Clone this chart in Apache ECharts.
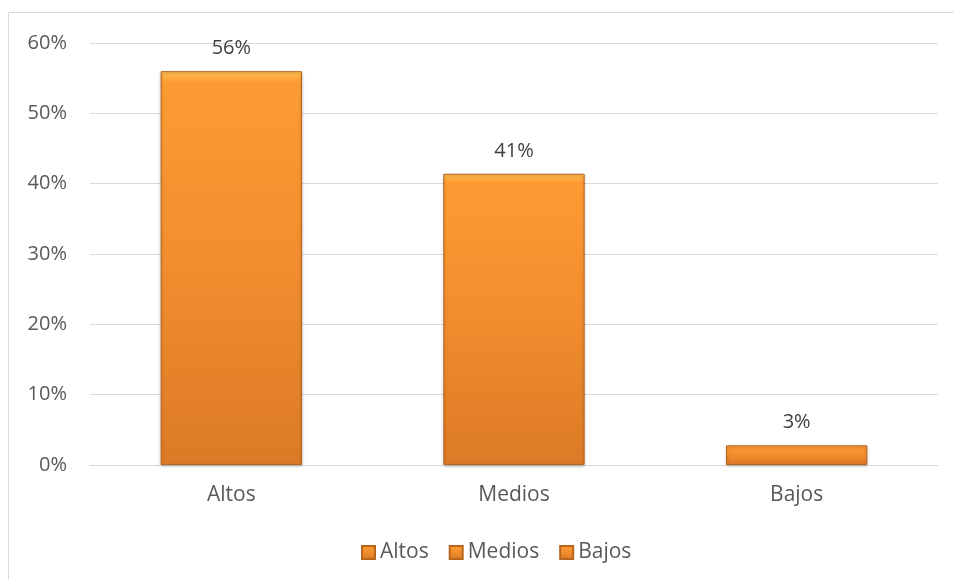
<!DOCTYPE html>
<html>
<head>
<meta charset="utf-8">
<script src="https://cdn.jsdelivr.net/npm/echarts@6/dist/echarts.min.js"></script>
<style>
  html, body { margin: 0; padding: 0; background: #fff; }
  #chart { width: 954px; height: 579px; }
</style>
</head>
<body>
<div id="chart"></div>
<script>
  // values (percent)
  var categories = ['Altos', 'Medios', 'Bajos'];
  var values = [56, 41.4, 2.8];
  var yTicks = [0, 10, 20, 30, 40, 50, 60];

  var myChart = echarts.init(document.getElementById('chart'));
  var font = '"Open Sans", "Liberation Sans", sans-serif';

  var barColor = new echarts.graphic.LinearGradient(0, 0, 0, 1, [
    {offset: 0, color: '#ffc04f'},
    {offset: 0.03, color: '#fd9b33'},
    {offset: 0.5, color: '#f18d2e'},
    {offset: 1, color: '#dc7a26'}
  ]);

  // one series per category so the legend shows all three names
  var series = categories.map(function (name, i) {
    var data = categories.map(function (c, j) { return j === i ? values[i] : null; });
    return {
      name: name,
      type: 'bar',
      stack: 'all',
      barWidth: '50%',
      data: data,
      itemStyle: {
        color: barColor,
        borderColor: '#b8661e',
        borderWidth: 1,
        shadowColor: 'rgba(0,0,0,0.25)',
        shadowBlur: 3,
        shadowOffsetY: 1
      },
      label: {
        show: true,
        position: 'top',
        distance: 13,
        color: '#404040',
        fontSize: 20,
        fontFamily: font,
        formatter: function (p) { return Math.round(p.value) + '%'; }
      }
    };
  });

  myChart.setOption({
    animation: false,
    graphic: [{
      type: 'polyline',
      shape: {points: [[8.5, 579], [8.5, 12.5], [954, 12.5]]},
      style: {fill: 'none', stroke: '#d9d9d9', lineWidth: 1},
      silent: true
    }],
    grid: {
      left: 90,
      right: 16,
      top: 43,
      bottom: 114
    },
    legend: {
      top: 537,
      left: 356,
      itemWidth: 13,
      itemHeight: 13,
      itemGap: 20,
      icon: 'rect',
      textStyle: {color: '#595959', fontSize: 21, fontFamily: font},
      data: categories
    },
    xAxis: {
      type: 'category',
      data: categories,
      axisTick: {show: false},
      axisLine: {lineStyle: {color: '#d9d9d9', width: 1}},
      axisLabel: {color: '#595959', fontSize: 21, fontFamily: font, margin: 20}
    },
    yAxis: {
      type: 'value',
      min: yTicks[0],
      max: yTicks[yTicks.length - 1],
      interval: 10,
      axisLine: {show: false},
      axisTick: {show: false},
      splitLine: {lineStyle: {color: '#d9d9d9', width: 1}},
      axisLabel: {
        color: '#595959',
        fontSize: 20,
        fontFamily: font,
        margin: 23,
        formatter: '{value}%'
      }
    },
    series: series
  });
</script>
</body>
</html>
